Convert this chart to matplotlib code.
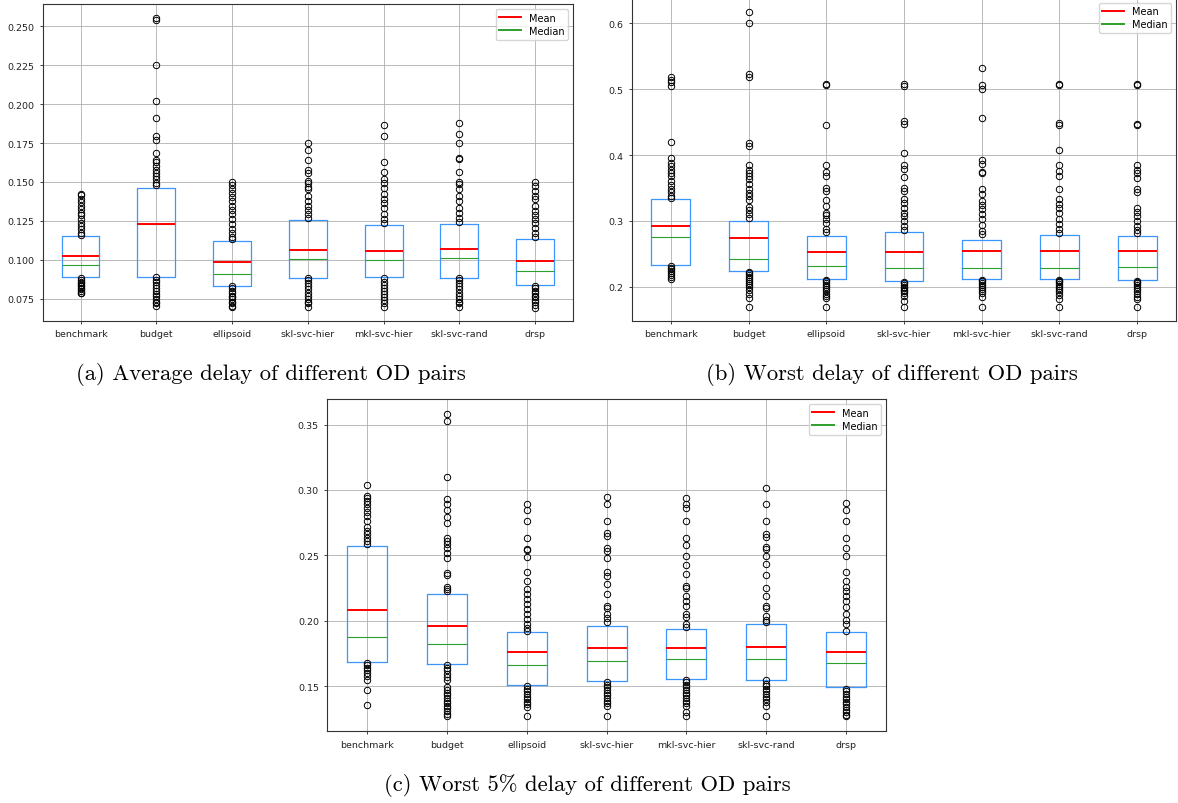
import matplotlib.pyplot as plt
from matplotlib.lines import Line2D

methods = ['benchmark', 'budget', 'ellipsoid', 'skl-svc-hier', 'mkl-svc-hier', 'skl-svc-rand', 'drsp']

# (a) average delay
avg_q1 = [0.0887, 0.0891, 0.0835, 0.0883, 0.0887, 0.0883, 0.0838]
avg_q3 = [0.1155, 0.1458, 0.1121, 0.1254, 0.1222, 0.1232, 0.1132]
avg_med = [0.0966, 0.1228, 0.0908, 0.1005, 0.0998, 0.1011, 0.0930]
avg_mean = [0.1026, 0.1232, 0.0983, 0.1065, 0.1054, 0.1069, 0.0992]
avg_fliers = [
    [0.1421, 0.1415, 0.1389, 0.1372, 0.1346, 0.1325, 0.1303, 0.1286, 0.1260, 0.1234, 0.1217, 0.1196, 0.1174, 0.1162,
     0.0885, 0.0870, 0.0860, 0.0850, 0.0840, 0.0830, 0.0820, 0.0810, 0.0800, 0.0790, 0.0784],
    [0.2554, 0.2537, 0.2253, 0.2022, 0.1912, 0.1796, 0.1770, 0.1687, 0.1640, 0.1625, 0.1603, 0.1580, 0.1556, 0.1540,
     0.1518, 0.1496, 0.1480, 0.0890, 0.0870, 0.0860, 0.0840, 0.0820, 0.0800, 0.0780, 0.0770, 0.0750, 0.0730, 0.0720, 0.0702],
    [0.1500, 0.1479, 0.1453, 0.1432, 0.1406, 0.1378, 0.1346, 0.1320, 0.1292, 0.1260, 0.1228, 0.1196, 0.1174, 0.1149, 0.1131,
     0.0830, 0.0820, 0.0800, 0.0790, 0.0770, 0.0760, 0.0750, 0.0730, 0.0720, 0.0705, 0.0700],
    [0.1749, 0.1706, 0.1644, 0.1575, 0.1560, 0.1507, 0.1492, 0.1470, 0.1453, 0.1410, 0.1378, 0.1346, 0.1320, 0.1292, 0.1271,
     0.0880, 0.0870, 0.0850, 0.0830, 0.0810, 0.0790, 0.0770, 0.0750, 0.0730, 0.0720, 0.0700],
    [0.1865, 0.1794, 0.1631, 0.1563, 0.1518, 0.1496, 0.1464, 0.1421, 0.1389, 0.1367, 0.1335, 0.1292, 0.1260, 0.1234,
     0.0880, 0.0860, 0.0840, 0.0820, 0.0800, 0.0780, 0.0760, 0.0740, 0.0720, 0.0700],
    [0.1876, 0.1807, 0.1751, 0.1657, 0.1650, 0.1563, 0.1500, 0.1485, 0.1453, 0.1410, 0.1378, 0.1335, 0.1303, 0.1271, 0.1243,
     0.0880, 0.0870, 0.0850, 0.0830, 0.0810, 0.0790, 0.0770, 0.0750, 0.0730, 0.0720, 0.0700],
    [0.1500, 0.1475, 0.1443, 0.1410, 0.1389, 0.1346, 0.1314, 0.1286, 0.1260, 0.1234, 0.1207, 0.1174, 0.1149,
     0.0830, 0.0820, 0.0800, 0.0790, 0.0770, 0.0760, 0.0740, 0.0730, 0.0710, 0.0690],
]

# (b) worst delay
worst_q1 = [0.2330, 0.2243, 0.2121, 0.2086, 0.2121, 0.2111, 0.2096]
worst_q3 = [0.3333, 0.3004, 0.2775, 0.2836, 0.2715, 0.2791, 0.2775]
worst_med = [0.2760, 0.2416, 0.2314, 0.2279, 0.2289, 0.2279, 0.2304]
worst_mean = [0.2928, 0.2735, 0.2532, 0.2532, 0.2542, 0.2547, 0.2537]
worst_fliers = [
    [0.5179, 0.5143, 0.5103, 0.5052, 0.4200, 0.3957, 0.3876, 0.3835, 0.3774, 0.3734, 0.3683, 0.3607, 0.3551, 0.3480,
     0.3440, 0.3379, 0.3348, 0.2320, 0.2290, 0.2270, 0.2240, 0.2210, 0.2180, 0.2150, 0.2111],
    [0.6167, 0.6005, 0.5224, 0.5189, 0.4190, 0.4140, 0.3850, 0.3774, 0.3734, 0.3683, 0.3632, 0.3556, 0.3480, 0.3430,
     0.3379, 0.3313, 0.3212, 0.3166, 0.3100, 0.3050, 0.2230, 0.2210, 0.2180, 0.2150, 0.2120, 0.2090, 0.2050, 0.2020,
     0.1990, 0.1950, 0.1890, 0.1822, 0.1696],
    [0.5087, 0.5057, 0.4454, 0.3850, 0.3744, 0.3683, 0.3495, 0.3450, 0.3313, 0.3227, 0.3126, 0.3085, 0.3024, 0.2963,
     0.2882, 0.2831, 0.2110, 0.2080, 0.2050, 0.2020, 0.1990, 0.1960, 0.1930, 0.1890, 0.1860, 0.1832, 0.1700],
    [0.5082, 0.5052, 0.4520, 0.4469, 0.4038, 0.3850, 0.3784, 0.3667, 0.3506, 0.3455, 0.3328, 0.3267, 0.3201, 0.3126,
     0.3075, 0.2999, 0.2923, 0.2862, 0.2070, 0.2050, 0.2030, 0.2000, 0.1980, 0.1950, 0.1930, 0.1900, 0.1860, 0.1782, 0.1700],
    [0.5316, 0.5062, 0.5001, 0.4560, 0.3921, 0.3860, 0.3749, 0.3724, 0.3480, 0.3404, 0.3303, 0.3237, 0.3176, 0.3100,
     0.3024, 0.2933, 0.2847, 0.2796, 0.2110, 0.2080, 0.2060, 0.2030, 0.2000, 0.1970, 0.1930, 0.1900, 0.1850, 0.1700],
    [0.5082, 0.5062, 0.4484, 0.4464, 0.4084, 0.3850, 0.3759, 0.3683, 0.3480, 0.3338, 0.3252, 0.3201, 0.3126, 0.3024,
     0.2948, 0.2872, 0.2821, 0.2110, 0.2090, 0.2070, 0.2040, 0.2010, 0.1980, 0.1950, 0.1920, 0.1870, 0.1820, 0.1700],
    [0.5082, 0.5062, 0.4474, 0.4454, 0.3850, 0.3774, 0.3734, 0.3658, 0.3480, 0.3440, 0.3201, 0.3136, 0.3075, 0.2999,
     0.2923, 0.2857, 0.2810, 0.2090, 0.2070, 0.2050, 0.2020, 0.1990, 0.1960, 0.1930, 0.1890, 0.1850, 0.1820, 0.1700],
]

# (c) worst 5% delay
w5_q1 = [0.1683, 0.1668, 0.1505, 0.1536, 0.1551, 0.1549, 0.1490]
w5_q3 = [0.2570, 0.2207, 0.1912, 0.1963, 0.1940, 0.1978, 0.1912]
w5_med = [0.1874, 0.1825, 0.1665, 0.1693, 0.1706, 0.1706, 0.1676]
w5_mean = [0.2082, 0.1958, 0.1760, 0.1792, 0.1792, 0.1803, 0.1760]
w5_fliers = [
    [0.3040, 0.2954, 0.2936, 0.2916, 0.2895, 0.2865, 0.2834, 0.2799, 0.2763, 0.2717, 0.2687, 0.2661, 0.2636, 0.2610,
     0.2585, 0.1680, 0.1660, 0.1640, 0.1620, 0.1600, 0.1580, 0.1544, 0.1470, 0.1353],
    [0.3581, 0.3525, 0.3096, 0.2928, 0.2890, 0.2844, 0.2793, 0.2750, 0.2636, 0.2610, 0.2585, 0.2555, 0.2514, 0.2479,
     0.2364, 0.2351, 0.2260, 0.2242, 0.2224, 0.1660, 0.1640, 0.1620, 0.1590, 0.1570, 0.1550, 0.1493, 0.1470, 0.1450,
     0.1430, 0.1410, 0.1390, 0.1370, 0.1350, 0.1330, 0.1310, 0.1290, 0.1269],
    [0.2890, 0.2844, 0.2763, 0.2636, 0.2552, 0.2539, 0.2491, 0.2369, 0.2301, 0.2242, 0.2204, 0.2166, 0.2128, 0.2090,
     0.2052, 0.2014, 0.1975, 0.1945, 0.1920, 0.1500, 0.1480, 0.1460, 0.1440, 0.1420, 0.1400, 0.1380, 0.1360, 0.1340, 0.1270],
    [0.2946, 0.2890, 0.2763, 0.2674, 0.2649, 0.2555, 0.2534, 0.2479, 0.2369, 0.2344, 0.2281, 0.2204, 0.2115, 0.2097,
     0.2052, 0.2021, 0.1988, 0.1530, 0.1510, 0.1490, 0.1470, 0.1450, 0.1430, 0.1410, 0.1390, 0.1370, 0.1350, 0.1270],
    [0.2936, 0.2890, 0.2865, 0.2763, 0.2636, 0.2580, 0.2496, 0.2425, 0.2357, 0.2268, 0.2250, 0.2191, 0.2153, 0.2115,
     0.2052, 0.2026, 0.1975, 0.1950, 0.1550, 0.1530, 0.1510, 0.1490, 0.1470, 0.1450, 0.1430, 0.1410, 0.1390, 0.1370,
     0.1350, 0.1300, 0.1270],
    [0.3015, 0.2890, 0.2763, 0.2661, 0.2641, 0.2560, 0.2547, 0.2496, 0.2433, 0.2351, 0.2250, 0.2191, 0.2115, 0.2097,
     0.2039, 0.2006, 0.1988, 0.1550, 0.1520, 0.1500, 0.1480, 0.1460, 0.1440, 0.1420, 0.1400, 0.1380, 0.1350, 0.1270],
    [0.2898, 0.2847, 0.2763, 0.2636, 0.2555, 0.2496, 0.2369, 0.2301, 0.2255, 0.2224, 0.2191, 0.2153, 0.2102, 0.2052,
     0.2006, 0.1975, 0.1925, 0.1480, 0.1460, 0.1440, 0.1420, 0.1400, 0.1380, 0.1360, 0.1340, 0.1320, 0.1300, 0.1280, 0.1270],
]

BOX_COLOR = '#3c96ff'
MEAN_COLOR = 'red'
MEDIAN_COLOR = '#2ca02c'
FS = 6.8


def draw_box(ax, q1, q3, med, mean, fliers, ylim):
    stats = []
    for i in range(len(methods)):
        # whiskers sit on the box edges, so every point outside the box is a flier
        stats.append({'label': methods[i], 'q1': q1[i], 'q3': q3[i], 'med': med[i], 'mean': mean[i],
                      'whislo': q1[i], 'whishi': q3[i], 'fliers': fliers[i]})
    ax.bxp(stats, widths=0.5, showmeans=True, meanline=True, showcaps=False,
           boxprops=dict(color=BOX_COLOR, linewidth=0.9),
           whiskerprops=dict(color=BOX_COLOR, linewidth=0.9),
           medianprops=dict(color=MEDIAN_COLOR, linewidth=0.8),
           meanprops=dict(color=MEAN_COLOR, linestyle='-', linewidth=1.4),
           flierprops=dict(marker='o', markersize=4.6, markerfacecolor='none',
                           markeredgecolor='black', markeredgewidth=0.7))
    ax.set_ylim(*ylim)
    ax.set_xlim(0.5, len(methods) + 0.5)
    ax.grid(True, color='#b0b0b0', linewidth=0.6)
    ax.set_axisbelow(True)
    ax.tick_params(labelsize=FS, length=2.5, width=0.6, colors='#222222')
    for s in ax.spines.values():
        s.set_linewidth(0.8)
        s.set_color('#333333')
    handles = [Line2D([], [], color=MEAN_COLOR, lw=1.4), Line2D([], [], color=MEDIAN_COLOR, lw=1.4)]
    ax.legend(handles, ['Mean', 'Median'], loc='upper right', fontsize=FS + 0.2,
              handlelength=2.2, borderpad=0.4, labelspacing=0.3, fancybox=True)


fig = plt.figure(figsize=(11.78, 8.04), dpi=100)

ax_a = fig.add_axes([0.0362, 0.5995, 0.4502, 0.3943])
draw_box(ax_a, avg_q1, avg_q3, avg_med, avg_mean, avg_fliers, (0.0607, 0.2643))
ax_a.set_yticks([0.075, 0.100, 0.125, 0.150, 0.175, 0.200, 0.225, 0.250])
ax_a.set_yticklabels(['0.075', '0.100', '0.125', '0.150', '0.175', '0.200', '0.225', '0.250'])

ax_b = fig.add_axes([0.5365, 0.5995, 0.4618, 0.4021])
draw_box(ax_b, worst_q1, worst_q3, worst_med, worst_mean, worst_fliers, (0.148, 0.639))
ax_b.set_yticks([0.2, 0.3, 0.4, 0.5, 0.6])

ax_c = fig.add_axes([0.2778, 0.0892, 0.4743, 0.4133])
draw_box(ax_c, w5_q1, w5_q3, w5_med, w5_mean, w5_fliers, (0.1155, 0.3695))
ax_c.set_yticks([0.15, 0.20, 0.25, 0.30, 0.35])
ax_c.set_yticklabels(['0.15', '0.20', '0.25', '0.30', '0.35'])

cap = dict(fontfamily='cmr10', fontsize=16.3, ha='center', va='center')
fig.text(271 / 1178, 1 - 375 / 804, '(a) Average delay of different OD pairs', **cap)
fig.text(892 / 1178, 1 - 375 / 804, '(b) Worst delay of different OD pairs', **cap)
fig.text(587 / 1178, 1 - 786 / 804, '(c) Worst 5% delay of different OD pairs', **cap)

fig.savefig('out.png', dpi=100)
